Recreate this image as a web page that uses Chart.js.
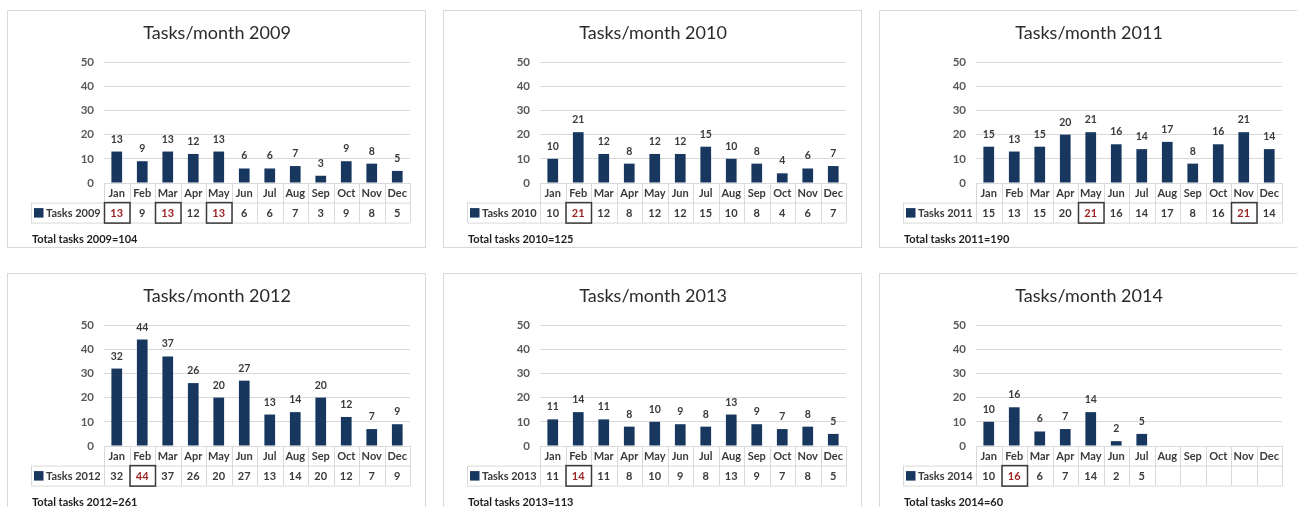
<!DOCTYPE html>
<html>
<head>
<meta charset="utf-8">
<script src="https://cdn.jsdelivr.net/npm/chart.js@4.4.1/dist/chart.umd.min.js"></script>
<style>
  html, body { margin: 0; padding: 0; background: #ffffff; width: 1297px; height: 507px; overflow: hidden; }
  .panel { position: absolute; border: 1px solid #d9d9d9; background: #fff; width: 417px; height: 236px; }
  .panel canvas { display: block; }
</style>
</head>
<body>
<div class="panel" style="left:7px;top:10px"><canvas id="c2009" width="417" height="236"></canvas></div>
<div class="panel" style="left:443px;top:10px"><canvas id="c2010" width="417" height="236"></canvas></div>
<div class="panel" style="left:879px;top:10px"><canvas id="c2011" width="417" height="236"></canvas></div>
<div class="panel" style="left:7px;top:273px"><canvas id="c2012" width="417" height="236"></canvas></div>
<div class="panel" style="left:443px;top:273px"><canvas id="c2013" width="417" height="236"></canvas></div>
<div class="panel" style="left:879px;top:273px"><canvas id="c2014" width="417" height="236"></canvas></div>
<script>
// ---- Data ----
const months = ['Jan','Feb','Mar','Apr','May','Jun','Jul','Aug','Sep','Oct','Nov','Dec'];
const years = ['2009','2010','2011','2012','2013','2014'];
const yTicks = [0, 10, 20, 30, 40, 50];
const tasks2009 = [13, 9, 13, 12, 13, 6, 6, 7, 3, 9, 8, 5];
const tasks2010 = [10, 21, 12, 8, 12, 12, 15, 10, 8, 4, 6, 7];
const tasks2011 = [15, 13, 15, 20, 21, 16, 14, 17, 8, 16, 21, 14];
const tasks2012 = [32, 44, 37, 26, 20, 27, 13, 14, 20, 12, 7, 9];
const tasks2013 = [11, 14, 11, 8, 10, 9, 8, 13, 9, 7, 8, 5];
const tasks2014 = [10, 16, 6, 7, 14, 2, 5, null, null, null, null, null];
const seriesByYear = { '2009': tasks2009, '2010': tasks2010, '2011': tasks2011,
                       '2012': tasks2012, '2013': tasks2013, '2014': tasks2014 };

// ---- Styles ----
const FONT = 'Lato, "Open Sans", "Liberation Sans", sans-serif';
const BAR = '#17375e';
const TEXT = '#3a3a3a';
const GRID = '#d9d9d9';
const HILITE_TEXT = '#9e2424';

const tablePlugin = {
  id: 'dataTable',
  afterDraw(chart, args, opts) {
    const { ctx, chartArea: ca, scales: { x } } = chart;
    const data = chart.data.datasets[0].data;
    const meta = chart.getDatasetMeta(0);
    const n = chart.data.labels.length;
    const cw = (ca.right - ca.left) / n;
    const r1 = ca.bottom, r2 = ca.bottom + 19.6, r3 = ca.bottom + 39.6;
    const legL = ca.left - 73;
    const vals = data.filter(v => v !== null);
    const maxV = Math.max(...vals);
    const total = vals.reduce((a, b) => a + b, 0);

    ctx.save();
    // Title
    ctx.fillStyle = '#2b2b2b';
    ctx.font = '18px ' + FONT;
    ctx.textAlign = 'center';
    ctx.textBaseline = 'middle';
    ctx.fillText('Tasks/month ' + opts.year, chart.width / 2 + 0.5, 22);

    // Data labels
    ctx.font = 'bold 10.5px ' + FONT;
    ctx.fillStyle = TEXT;
    ctx.textBaseline = 'alphabetic';
    meta.data.forEach((bar, i) => {
      if (data[i] === null) return;
      ctx.fillText(String(data[i]), bar.x, bar.y - 9);
    });

    // Table grid
    ctx.strokeStyle = GRID;
    ctx.lineWidth = 1;
    ctx.beginPath();
    ctx.moveTo(ca.left, r1 + 0.5); ctx.lineTo(ca.right, r1 + 0.5);
    ctx.moveTo(legL, r2 + 0.5); ctx.lineTo(ca.right, r2 + 0.5);
    ctx.moveTo(legL, r3 + 0.5); ctx.lineTo(ca.right, r3 + 0.5);
    ctx.moveTo(legL + 0.5, r2); ctx.lineTo(legL + 0.5, r3);
    for (let i = 0; i <= n; i++) {
      const xb = Math.round(x.getPixelForValue(Math.min(i, n - 1)) + (i === n ? cw / 2 : -cw / 2)) + 0.5;
      ctx.moveTo(xb, r1); ctx.lineTo(xb, r3);
    }
    ctx.stroke();

    // Month labels and values
    ctx.textAlign = 'center';
    ctx.textBaseline = 'middle';
    for (let i = 0; i < n; i++) {
      const cx = x.getPixelForValue(i);
      ctx.font = 'bold 11px ' + FONT;
      ctx.fillStyle = TEXT;
      ctx.fillText(chart.data.labels[i], cx, (r1 + r2) / 2 + 0.5);
      if (data[i] !== null) {
        const hl = data[i] === maxV;
        ctx.fillStyle = hl ? HILITE_TEXT : TEXT;
        ctx.fillText(String(data[i]), cx, (r2 + r3) / 2 + 0.5);
        if (hl) {
          ctx.strokeStyle = '#3a3a3a';
          ctx.lineWidth = 1.5;
          ctx.strokeRect(cx - cw / 2 + 0.5, r2, cw, r3 - r2 + 0.5);
        }
      }
    }

    // Legend cell
    ctx.fillStyle = BAR;
    ctx.fillRect(legL + 3, (r2 + r3) / 2 - 4.5, 9.5, 9.5);
    ctx.fillStyle = TEXT;
    ctx.textAlign = 'left';
    ctx.font = 'bold 11px ' + FONT;
    ctx.fillText(chart.data.datasets[0].label, legL + 15, (r2 + r3) / 2 + 0.5);

    // Total
    ctx.font = 'bold 11px ' + FONT;
    ctx.fillStyle = '#1e1e1e';
    ctx.fillText('Total tasks ' + opts.year + '=' + total, 24, 228);
    ctx.restore();
  }
};

years.forEach(year => {
  new Chart(document.getElementById('c' + year), {
    type: 'bar',
    data: {
      labels: months,
      datasets: [{
        label: 'Tasks ' + year,
        data: seriesByYear[year],
        backgroundColor: BAR,
        barPercentage: 0.42,
        categoryPercentage: 1.0
      }]
    },
    options: {
      responsive: false,
      animation: false,
      layout: { padding: { top: 51, right: 15, bottom: 64, left: 0 } },
      plugins: {
        legend: { display: false },
        tooltip: { enabled: false },
        title: { display: false },
        dataTable: { year: year }
      },
      scales: {
        x: { display: false },
        y: {
          min: yTicks[0],
          max: yTicks[yTicks.length - 1],
          afterFit(scale) { scale.width = 96; },
          afterBuildTicks(scale) { scale.ticks = yTicks.map(v => ({ value: v })); },
          ticks: { stepSize: 10, padding: 10, color: '#595959', font: { family: FONT, size: 11.5, weight: 'bold' } },
          grid: { color: GRID, drawTicks: false },
          border: { display: false }
        }
      }
    },
    plugins: [tablePlugin]
  });
});
</script>
</body>
</html>
